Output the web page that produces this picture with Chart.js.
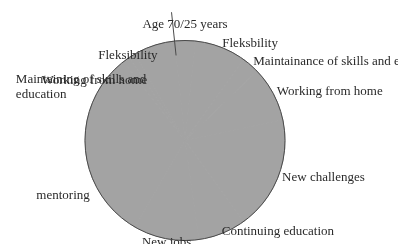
<!DOCTYPE html>
<html>
<head>
<meta charset="utf-8">
<script src="https://cdn.jsdelivr.net/npm/chart.js@4/dist/chart.umd.min.js"></script>
<style>
  body { margin: 0; background: #fff; }
  #wrap { width: 398px; height: 244px; }
</style>
</head>
<body>
<div id="wrap"><canvas id="pie" width="398" height="244"></canvas></div>
<script>
const categories = [
  "Age 70/25 years",
  "Fleksbility",
  "Maintainance of skills and education",
  "Working from home",
  "New challenges",
  "Continuing education",
  "New jobs",
  "mentoring",
  "",
  ["Maintaining of skills and", "education"],
  "Working from home",
  "Fleksibility",
];
const values = [12, 30, 10, 32, 66, 28, 38, 60, 52, 4, 4, 24];

// label placement: extra radial pull per slice (px)
const labelPull = [4, 0, 0, 0, 0, -6, -8, 6, 0, -38, -33, -15];

const pieLabels = {
  id: "pieLabels",
  afterDatasetsDraw(chart, args, opts) {
    const ctx = chart.ctx;
    const arcs = chart.getDatasetMeta(0).data;
    const first = arcs[0];
    const cx = first.x, cy = first.y, R = first.outerRadius;

    ctx.save();
    // outer edge
    ctx.strokeStyle = opts.edge;
    ctx.lineWidth = 1;
    ctx.beginPath();
    ctx.arc(cx, cy, R, 0, Math.PI * 2);
    ctx.stroke();

    // line at the start of the first slice
    const a0 = first.startAngle;
    ctx.beginPath();
    ctx.moveTo(cx + Math.cos(a0) * R * 0.855, cy + Math.sin(a0) * R * 0.855);
    ctx.lineTo(cx + Math.cos(a0) * R * 1.29, cy + Math.sin(a0) * R * 1.29);
    ctx.stroke();

    ctx.font = opts.font;
    ctx.fillStyle = opts.color;
    ctx.textAlign = "left";
    ctx.textBaseline = "middle";
    const lh = 15;

    arcs.forEach((arc, i) => {
      const text = chart.data.labels[i];
      if (!text) return;
      const mid = (arc.startAngle + arc.endAngle) / 2;
      const r = R + 4 + (labelPull[i] || 0);
      const ax = cx + Math.cos(mid) * r;
      const ay = cy + Math.sin(mid) * r;
      const lines = Array.isArray(text) ? text : [text];
      const w = Math.max(...lines.map((l) => ctx.measureText(l).width));
      const h = lines.length * lh;
      const c = Math.cos(mid);
      let left;
      if (c > 0.2) left = ax;
      else if (c < -0.2) left = ax - w;
      else left = ax - w / 2;
      let top = ay - h / 2;
      if (Math.abs(c) <= 0.2) top += (Math.sin(mid) * h) / 2;
      lines.forEach((l, j) => ctx.fillText(l, left, top + lh * j + lh / 2));
    });
    ctx.restore();
  },
};

new Chart(document.getElementById("pie"), {
  type: "pie",
  data: {
    labels: categories,
    datasets: [
      {
        data: values,
        backgroundColor: "#a3a3a3",
        borderColor: "#a3a3a3",
        borderWidth: 1,
      },
    ],
  },
  options: {
    responsive: false,
    animation: false,
    rotation: -6,
    layout: { padding: { left: 0, right: 28, top: 40, bottom: 3 } },
    plugins: {
      legend: { display: false },
      tooltip: { enabled: false },
      pieLabels: {
        font: "13px 'Liberation Serif'",
        color: "#2a2a2a",
        edge: "#4a4a4a",
      },
    },
  },
  plugins: [pieLabels],
});
</script>
</body>
</html>
